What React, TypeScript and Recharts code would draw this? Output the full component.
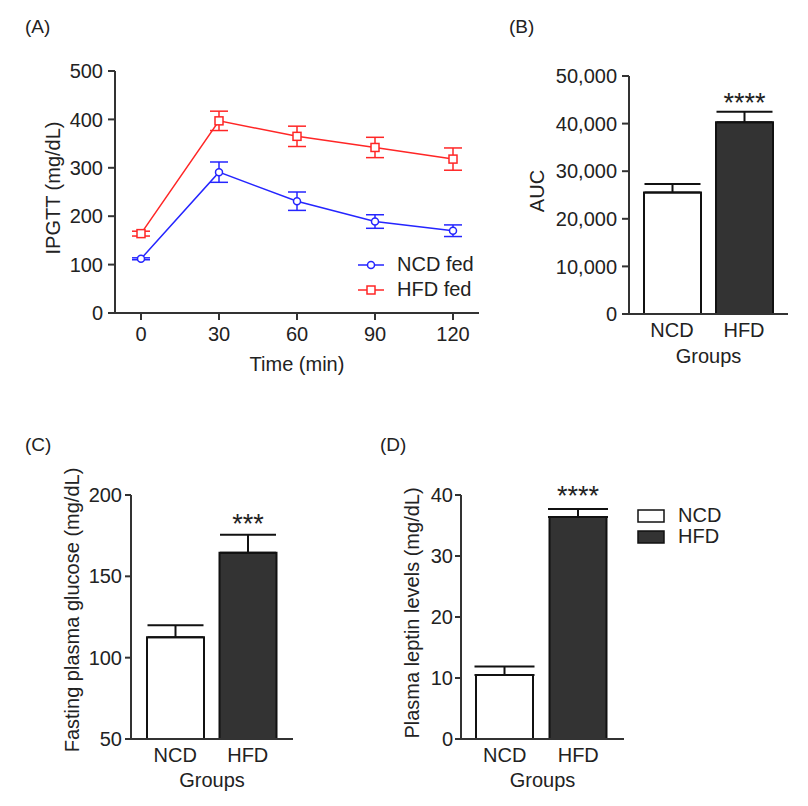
import { LineChart, Line, BarChart, Bar, Cell, XAxis, YAxis, ErrorBar, Legend, Label, LabelList } from 'recharts';

// (A) IPGTT time course
const times = [0, 30, 60, 90, 120];
const ncdGlucose = [112, 291, 231, 189, 170];
const ncdGlucoseSem = [2, 21, 19, 14, 12];
const hfdGlucose = [164, 397, 365, 342, 318];
const hfdGlucoseSem = [5, 20, 21, 21, 23];
const ipgttTicks = [0, 100, 200, 300, 400, 500];
const timeTicks = [0, 30, 60, 90, 120];

// (B)-(D) group comparisons
const groups = ['NCD', 'HFD'];
const groupFills = ['#ffffff', '#333333'];
const aucMean = [25500, 40300];
const aucSem = [1800, 2200];
const aucStars = ['', '****'];
const aucTicks = [0, 10000, 20000, 30000, 40000, 50000];

const fastingMean = [112.5, 164.5];
const fastingSem = [7.5, 11];
const fastingStars = ['', '***'];
const fastingTicks = [50, 100, 150, 200];

const leptinMean = [10.5, 36.4];
const leptinSem = [1.4, 1.3];
const leptinStars = ['', '****'];
const leptinTicks = [0, 10, 20, 30, 40];

const BLUE = '#2525ff';
const RED = '#ff2626';
const AXIS = '#333';
const TEXT = '#222';
const FONT = '"Liberation Sans", Arial, sans-serif';

const ipgttData = times.map((t, i) => ({
  t,
  ncd: ncdGlucose[i],
  ncdErr: ncdGlucoseSem[i],
  hfd: hfdGlucose[i],
  hfdErr: hfdGlucoseSem[i],
}));

const groupData = (mean: number[], sem: number[], stars: string[]) =>
  groups.map((g, i) => ({ group: g, mean: mean[i], sem: [0, sem[i]], stars: stars[i] }));

const tickStyle = { fill: TEXT, fontSize: 20, fontFamily: FONT };
const labelStyle = { fill: TEXT, fontSize: 20, fontFamily: FONT };

const SquareDot = (props: any) => {
  const { cx, cy, stroke, index } = props;
  return <rect key={`sq-${index}`} x={cx - 4} y={cy - 4} width={8} height={8} fill="#fff" stroke={stroke} strokeWidth={1.5} />;
};

const starLabel = (lift: number) => (props: any) => {
  const { x, y, width, value, index } = props;
  if (!value) return null;
  return (
    <text key={`star-${index}`} x={Number(x) + Number(width) / 2} y={Number(y) - lift} textAnchor="middle" fontSize={27} fontFamily={FONT} fill={TEXT}>
      {value}
    </text>
  );
};

const lineLegend = () => (
  <div style={{ fontFamily: FONT, fontSize: 20, color: TEXT }}>
    {[
      { name: 'NCD fed', color: BLUE, square: false },
      { name: 'HFD fed', color: RED, square: true },
    ].map((s) => (
      <div key={s.name} style={{ display: 'flex', alignItems: 'center', height: 25 }}>
        <svg width={27} height={14}>
          <line x1={0} x2={26} y1={7} y2={7} stroke={s.color} strokeWidth={1.5} />
          {s.square ? (
            <rect x={9} y={3} width={8} height={8} fill="#fff" stroke={s.color} strokeWidth={1.5} />
          ) : (
            <circle cx={13} cy={7} r={3.5} fill="#fff" stroke={s.color} strokeWidth={1.5} />
          )}
        </svg>
        <span style={{ marginLeft: 12 }}>{s.name}</span>
      </div>
    ))}
  </div>
);

const groupLegend = () => (
  <div style={{ fontFamily: FONT, fontSize: 20, color: TEXT }}>
    {groups.map((g, i) => (
      <div key={g} style={{ display: 'flex', alignItems: 'center', height: 21 }}>
        <svg width={28} height={14}>
          <rect x={1} y={1} width={26} height={12} fill={groupFills[i]} stroke="#111" strokeWidth={1.5} />
        </svg>
        <span style={{ marginLeft: 13 }}>{g}</span>
      </div>
    ))}
  </div>
);

const panelLabel = (text: string, left: number, top: number) => (
  <div style={{ position: 'absolute', left, top, fontFamily: FONT, fontSize: 19, color: TEXT, lineHeight: '20px' }}>{text}</div>
);

interface GroupBarProps {
  data: ReturnType<typeof groupData>;
  left: number;
  top: number;
  width: number;
  height: number;
  margin: { top: number; right: number; bottom: number; left: number };
  yWidth: number;
  domain: [number, number];
  ticks: number[];
  yLabel: string;
  yLabelDx: number;
  yLabelDy: number;
  tickSize: number;
  tickMargin: number;
  padding: { left: number; right: number };
  starLift: number;
  capWidth: number;
  xLabelDy: number;
  format?: (v: number) => string;
  legend?: boolean;
}

function GroupBar(p: GroupBarProps) {
  return (
    <div style={{ position: 'absolute', left: p.left, top: p.top }}>
      <BarChart width={p.width} height={p.height} data={p.data} margin={p.margin}>
        <XAxis
          dataKey="group"
          height={60}
          padding={p.padding}
          tickLine={false}
          tickSize={0}
          tickMargin={9}
          tick={tickStyle}
          axisLine={{ stroke: AXIS, strokeWidth: 2 }}
        >
          <Label value="Groups" position="center" dy={p.xLabelDy} style={labelStyle} />
        </XAxis>
        <YAxis
          width={p.yWidth}
          domain={p.domain}
          ticks={p.ticks}
          allowDataOverflow
          interval={0}
          tickSize={p.tickSize}
          tickMargin={p.tickMargin}
          tick={tickStyle}
          tickFormatter={p.format}
          axisLine={{ stroke: AXIS, strokeWidth: 2 }}
          tickLine={{ stroke: AXIS, strokeWidth: 2 }}
        >
          <Label value={p.yLabel} angle={-90} position="center" dx={p.yLabelDx} dy={p.yLabelDy} style={labelStyle} />
        </YAxis>
        {p.legend && (
          <Legend
            layout="vertical"
            align="center"
            verticalAlign="middle"
            content={groupLegend}
            wrapperStyle={{ left: 237, top: 115, bottom: 'auto', right: 'auto', width: 120 }}
          />
        )}
        <Bar dataKey="mean" barSize={57} stroke="#111" strokeWidth={2} isAnimationActive={false}>
          {p.data.map((d, i) => (
            <Cell key={d.group} fill={groupFills[i]} />
          ))}
          <ErrorBar dataKey="sem" width={p.capWidth} stroke="#111" strokeWidth={2} direction="y" />
          <LabelList dataKey="stars" content={starLabel(p.starLift)} />
        </Bar>
      </BarChart>
    </div>
  );
}

export default function App() {
  return (
    <div style={{ position: 'absolute', left: 0, top: 0, width: 808, height: 806, background: '#fff' }}>
      {panelLabel('(A)', 25, 17)}
      {panelLabel('(B)', 509, 17)}
      {panelLabel('(C)', 25, 435)}
      {panelLabel('(D)', 380, 435)}

      <div style={{ position: 'absolute', left: 0, top: 0 }}>
        <LineChart width={500} height={390} data={ipgttData} margin={{ top: 71, right: 21, bottom: 17, left: 55 }}>
          <XAxis
            dataKey="t"
            type="number"
            domain={[-10, 130]}
            ticks={timeTicks}
            allowDataOverflow
            height={60}
            tickSize={7}
            tickMargin={7}
            tick={tickStyle}
            axisLine={{ stroke: AXIS, strokeWidth: 2 }}
            tickLine={{ stroke: AXIS, strokeWidth: 2 }}
          >
            <Label value="Time (min)" position="center" dy={21} style={labelStyle} />
          </XAxis>
          <YAxis
            width={60}
            domain={[0, 500]}
            ticks={ipgttTicks}
            allowDataOverflow
            interval={0}
            tickSize={7}
            tickMargin={5}
            tick={tickStyle}
            axisLine={{ stroke: AXIS, strokeWidth: 2 }}
            tickLine={{ stroke: AXIS, strokeWidth: 2 }}
          >
            <Label value="IPGTT (mg/dL)" angle={-90} position="center" dx={-32} dy={-4} style={labelStyle} />
          </YAxis>
          <Legend
            layout="vertical"
            align="center"
            verticalAlign="middle"
            content={lineLegend}
            wrapperStyle={{ left: 358, top: 252, bottom: 'auto', right: 'auto', width: 130 }}
          />
          <Line
            dataKey="ncd"
            name="NCD fed"
            stroke={BLUE}
            strokeWidth={1.5}
            dot={{ r: 3.5, fill: '#fff', stroke: BLUE, strokeWidth: 1.5 }}
            isAnimationActive={false}
          >
            <ErrorBar dataKey="ncdErr" width={9} stroke={BLUE} strokeWidth={1.5} direction="y" />
          </Line>
          <Line
            dataKey="hfd"
            name="HFD fed"
            stroke={RED}
            strokeWidth={1.5}
            dot={SquareDot}
            isAnimationActive={false}
          >
            <ErrorBar dataKey="hfdErr" width={9} stroke={RED} strokeWidth={1.5} direction="y" />
          </Line>
        </LineChart>
      </div>

      <GroupBar
        data={groupData(aucMean, aucSem, aucStars)}
        left={500}
        top={0}
        width={308}
        height={390}
        margin={{ top: 76, right: 20, bottom: 16, left: 39 }}
        yWidth={90}
        domain={[0, 50000]}
        ticks={aucTicks}
        yLabel="AUC"
        yLabelDx={-47}
        yLabelDy={-4}
        tickSize={7}
        tickMargin={5}
        padding={{ left: 7, right: 8 }}
        starLift={10}
        capWidth={28}
        xLabelDy={12}
        format={(v) => v.toLocaleString('en-US')}
      />

      <GroupBar
        data={groupData(fastingMean, fastingSem, fastingStars)}
        left={0}
        top={390}
        width={400}
        height={416}
        margin={{ top: 105, right: 107, bottom: 7, left: 51 }}
        yWidth={80}
        domain={[50, 200]}
        ticks={fastingTicks}
        yLabel="Fasting plasma glucose (mg/dL)"
        yLabelDx={-19}
        yLabelDy={-7}
        tickSize={6}
        tickMargin={3}
        padding={{ left: 8, right: 9 }}
        starLift={20}
        capWidth={28}
        xLabelDy={11}
      />

      <GroupBar
        data={groupData(leptinMean, leptinSem, leptinStars)}
        left={400}
        top={390}
        width={408}
        height={416}
        margin={{ top: 105, right: 184, bottom: 7, left: 11 }}
        yWidth={50}
        domain={[0, 40]}
        ticks={leptinTicks}
        yLabel="Plasma leptin levels (mg/dL)"
        yLabelDx={-24}
        yLabelDy={-4}
        tickSize={6}
        tickMargin={2}
        padding={{ left: 7, right: 9 }}
        starLift={12}
        capWidth={30}
        xLabelDy={11}
        legend
      />
    </div>
  );
}
